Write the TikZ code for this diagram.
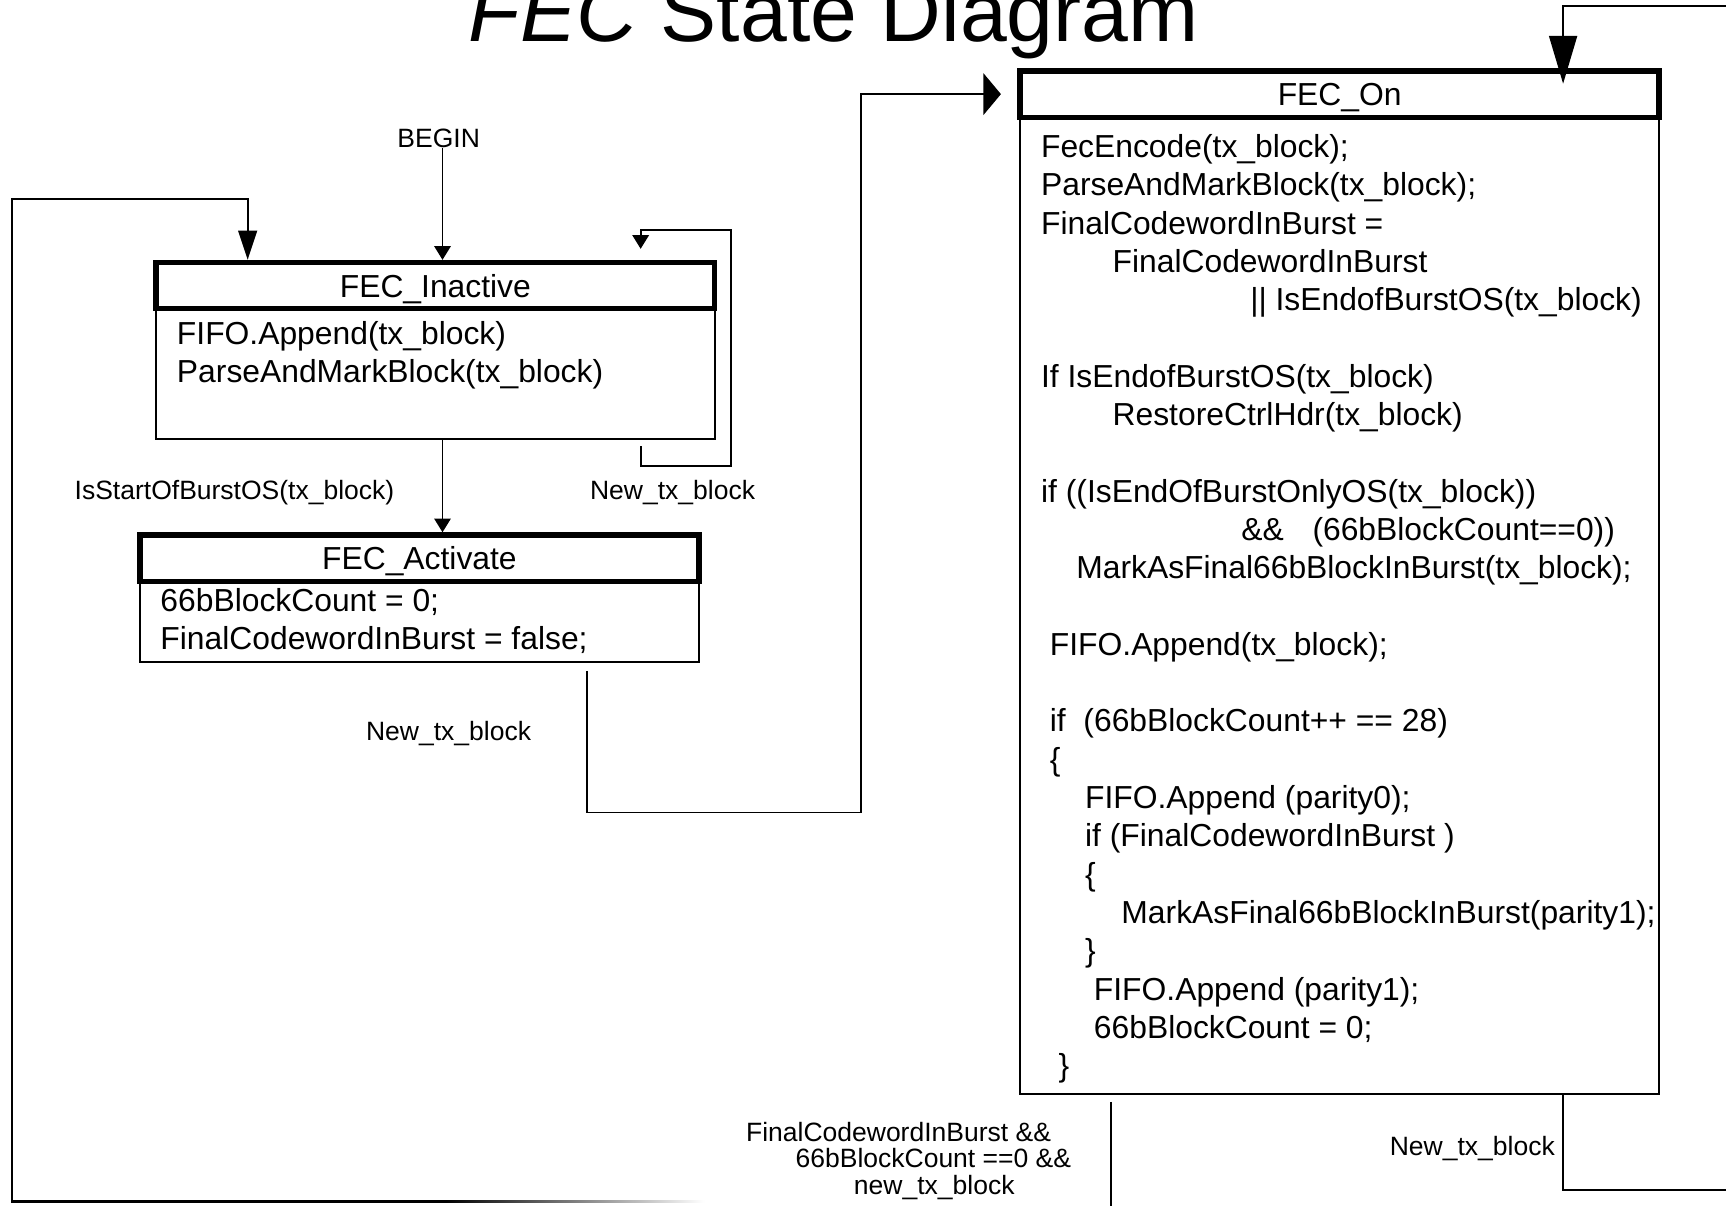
\documentclass[tikz,border=0pt]{standalone}
\usepackage{fontspec}
\setmainfont{Liberation Sans}
\usetikzlibrary{arrows.meta}
\usetikzlibrary{positioning}
\usetikzlibrary{calc}
\newcommand\codefont{\fontsize{16.45}{19.8}\selectfont}
\newcommand\guardfont{\fontsize{13.7}{13.66}\selectfont}
\newcommand\titlefont{\fontsize{43.5}{50}\selectfont}

\begin{document}
\begin{tikzpicture}[
    line width=0.9pt,
    every node/.style={inner sep=0pt},
    statehead/.style={draw,line width=2.8pt,minimum height=0.84cm,
        font=\codefont,text height=11.8pt,text depth=0pt},
    statebody/.style={draw,line width=0.9pt,outer sep=0pt},
    codetext/.style={font=\codefont,align=left,anchor=north west},
    guard/.style={font=\guardfont,anchor=base},
    arrowsmall/.style={-{Triangle[length=0.25cm,width=0.3cm]}}
]
\useasboundingbox (0,0) rectangle (31.36,-21.9);
\clip (0,0) rectangle (31.36,-21.9);

\node [anchor=base west,font=\titlefont] (title) at (8.5,-0.758)
    {\textit{FEC} State Diagram};

% states
\node [statehead,minimum width=10.15cm] (inh) at (7.91,-5.19) {FEC\_Inactive};
\node [statebody,minimum width=10.15cm,minimum height=2.36cm,below=-1.4pt of inh] (inb) {};
\node [codetext] (incode) at (3.2,-5.82) {%
    FIFO.Append(tx\_block)\\
    ParseAndMarkBlock(tx\_block)};

\node [statehead,minimum width=10.16cm] (acth) at (7.62,-10.14) {FEC\_Activate};
\node [statebody,minimum width=10.16cm,minimum height=1.47cm,below=-1.4pt of acth] (actb) {};
\node [codetext] (actcode) at (2.9,-10.67) {%
    66bBlockCount = 0;\\
    FinalCodewordInBurst = false;};

\node [statehead,minimum width=11.61cm] (onh) at (24.34,-1.71) {FEC\_On};
\node [statebody,minimum width=11.61cm,minimum height=17.75cm,below=-1.4pt of onh] (onb) {};
\node [codetext] (oncode) at (18.9,-2.426) {%
    FecEncode(tx\_block);\\
    ParseAndMarkBlock(tx\_block);\\
    FinalCodewordInBurst =\\
    \hspace*{1.3cm}FinalCodewordInBurst\\
    \hspace*{3.8cm}|| IsEndofBurstOS(tx\_block)\\
    \\
    If IsEndofBurstOS(tx\_block)\\
    \hspace*{1.3cm}RestoreCtrlHdr(tx\_block)\\
    \\
    if ((IsEndOfBurstOnlyOS(tx\_block))\\
    \hspace*{3.64cm}\&\&\hspace{0.52cm}(66bBlockCount==0))\\
    \hspace*{0.64cm}MarkAsFinal66bBlockInBurst(tx\_block);\\
    \\
    \hspace*{0.16cm}FIFO.Append(tx\_block);\\
    \\
    \hspace*{0.16cm}if\ \ (66bBlockCount++ == 28)\\
    \hspace*{0.16cm}\{\\
    \hspace*{0.8cm}FIFO.Append (parity0);\\
    \hspace*{0.8cm}if (FinalCodewordInBurst )\\
    \hspace*{0.8cm}\{\\
    \hspace*{1.46cm}MarkAsFinal66bBlockInBurst(parity1);\\
    \hspace*{0.8cm}\}\\
    \hspace*{0.96cm}FIFO.Append (parity1);\\
    \hspace*{0.96cm}66bBlockCount = 0;\\
    \hspace*{0.32cm}\}};

% transition labels
\node [guard] (begin) at (7.97,-2.676) {BEGIN};
\node [guard] (startos) at (4.26,-9.07) {IsStartOfBurstOS(tx\_block)};
\node [guard] (newin) at (12.22,-9.08) {New\_tx\_block};
\node [guard] (newact) at (8.15,-13.45) {New\_tx\_block};
\node [guard] (newon) at (26.75,-20.99) {New\_tx\_block};
\node [font=\guardfont,align=left,anchor=north west] (final) at (13.54,-20.37) {%
    FinalCodewordInBurst \&\&\\
    \hspace*{0.9cm}66bBlockCount ==0 \&\&\\
    \hspace*{1.96cm}new\_tx\_block};

% lanes
\coordinate (midx)  at (8.04,0);
\coordinate (selfx) at (11.64,0);
\coordinate (jx)    at (10.66,0);
\coordinate (lx)    at (4.5,0);
\coordinate (ox)    at (28.4,0);
\coordinate (rx)    at (20.19,0);
\coordinate (fade)  at (8.1,-21.83);

% transitions
\draw [arrowsmall] (begin.south -| midx) -- (inh.north -| midx);
\draw [arrowsmall] (inb.south -| midx) -- (acth.north -| midx);
\draw [arrowsmall,shorten >=0.2cm]
    ($(inb.south -| selfx)+(0,-0.14)$) |- (13.28,-8.47) |- (11.64,-4.18) -- (inh.north -| selfx);
\draw [-{Triangle[length=0.32cm,width=0.76cm]},shorten >=0.3cm]
    ($(actb.south -| jx)+(0,-0.16)$) |- (15.64,-14.76) |- (onh.west);
\draw [-{Triangle[length=0.87cm,width=0.51cm]},shorten >=-0.28cm]
    (onb.south -| ox) |- (33,-21.62) |- (28.4,-0.104) -- (onh.north -| ox);
\draw ($(onb.south -| rx)+(0,-0.14)$) -- ++(0,-2);
\draw [line width=1.1pt,-{Triangle[length=0.53cm,width=0.34cm]}]
    (fade) -| (0.22,-3.62) -| (inh.north -| lx);
\shade [left color=black,right color=white] (8.1,-21.805) rectangle (12.8,-21.855);

\end{tikzpicture}
\end{document}
